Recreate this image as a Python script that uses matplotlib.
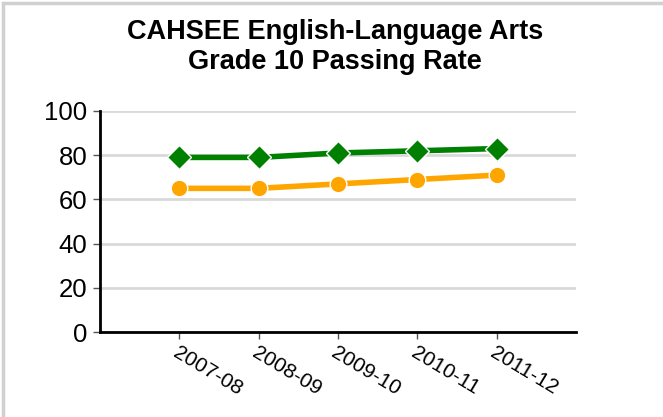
import matplotlib
matplotlib.use("Agg")
import matplotlib.pyplot as plt
from matplotlib.patches import Rectangle

years = ["2007-08", "2008-09", "2009-10", "2010-11", "2011-12"]
ela_high = [79, 79, 81, 82, 83]     # green diamonds
ela_low = [65, 65, 67, 69, 71]      # orange circles
yticks = [0, 20, 40, 60, 80, 100]

plt.rcParams["font.family"] = ["Liberation Sans", "DejaVu Sans"]

fig = plt.figure(figsize=(6.63, 4.17), dpi=100)
fig.patches.append(Rectangle((3 / 663, -0.1), 1.2, 1 - 3 / 417 + 0.1, transform=fig.transFigure,
                             facecolor="white", edgecolor="#d0d0d0", lw=2.5, zorder=-10))
ax = fig.add_axes([100 / 663, 1 - 332 / 417, 476 / 663, 221 / 417])
ax.set_facecolor("none")

x = list(range(len(years)))
ax.plot(x, ela_low, color="#ffa500", lw=4, marker="o", ms=12,
        mfc="#ffa500", mec="white", mew=1, zorder=3)
ax.plot(x, ela_high, color="#008000", lw=4, marker="D", ms=12.5,
        mfc="#008000", mec="white", mew=1, zorder=3)

ax.set_xlim(-1, len(years))
ax.set_ylim(0, 100)
ax.set_yticks(yticks)
ax.set_yticklabels([str(v) for v in yticks], fontsize=18.5)
ax.set_xticks(x)
ax.set_xticklabels(years, fontsize=15, rotation=-31, ha="left", va="top",
                   rotation_mode="anchor")
ax.tick_params(axis="x", pad=3, length=5, width=1, color="#555")
ax.tick_params(axis="y", pad=4, length=5, width=1, color="#555")
ax.grid(axis="y", color="#d9d9d9", lw=2, zorder=0)
for s in ("top", "right"):
    ax.spines[s].set_visible(False)
for s in ("left", "bottom"):
    ax.spines[s].set_linewidth(2)
    ax.spines[s].set_zorder(4)

fig.text(335 / 663, 1 - 47 / 417, "CAHSEE English-Language Arts\nGrade 10 Passing Rate",
         ha="center", va="center", fontsize=19.5, fontweight="bold", linespacing=1.2)

fig.savefig("out.png", dpi=100)
